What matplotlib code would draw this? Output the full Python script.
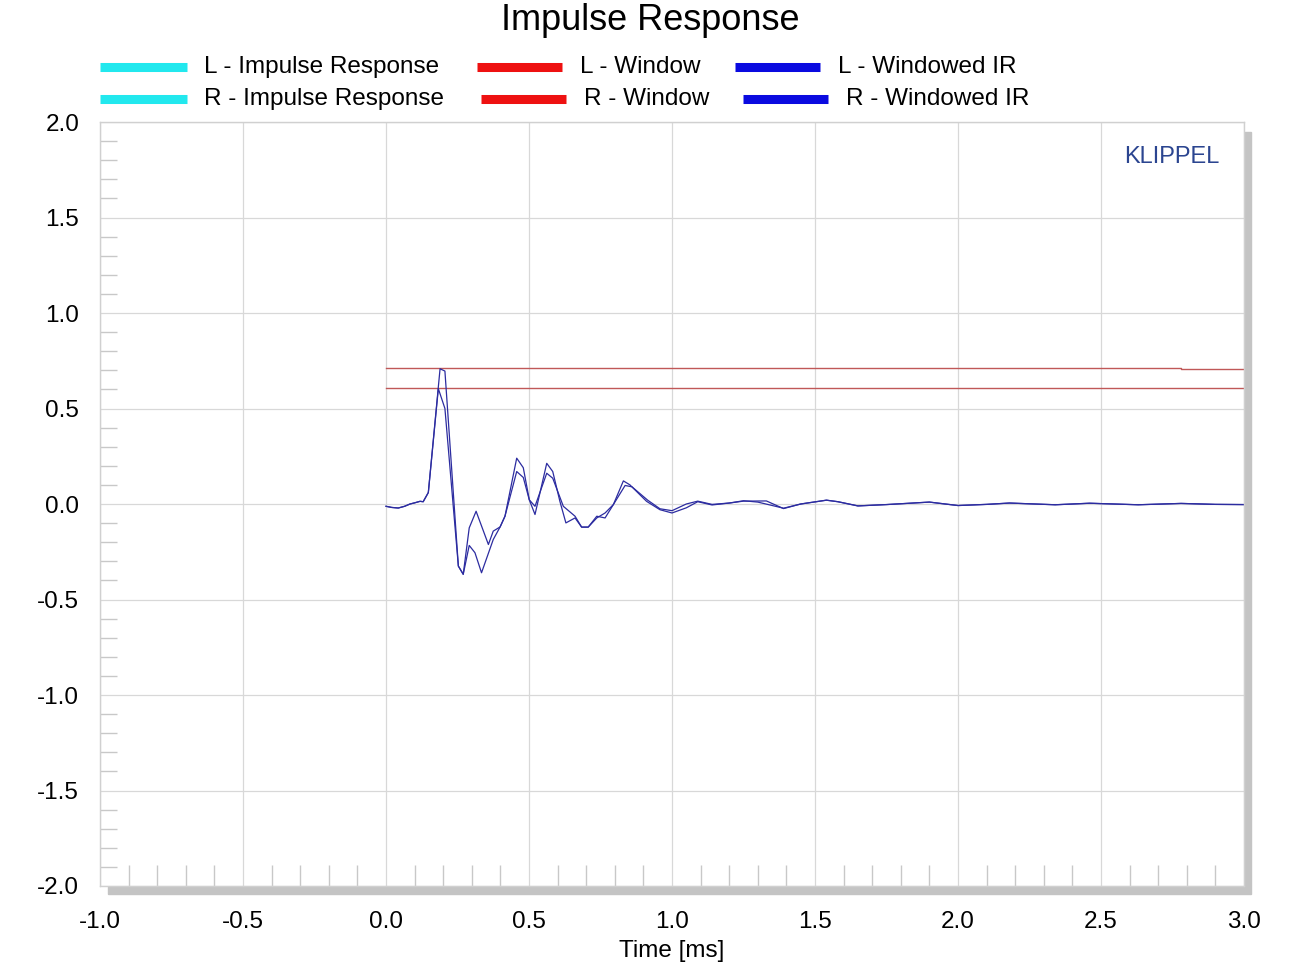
import matplotlib
matplotlib.use('Agg')
import matplotlib.pyplot as plt
from matplotlib.lines import Line2D
from matplotlib.patches import Rectangle
from matplotlib.ticker import MultipleLocator, FormatStrFormatter

plt.rcParams['font.family'] = ['Liberation Sans', 'DejaVu Sans']

# windowed impulse responses, time in ms
t_L = [0.0, 0.02, 0.043, 0.065, 0.084, 0.10, 0.119, 0.13, 0.148, 0.189, 0.206,
       0.253, 0.270, 0.291, 0.315, 0.358, 0.375, 0.399, 0.416, 0.457, 0.480,
       0.501, 0.521, 0.562, 0.583, 0.608, 0.629, 0.661, 0.684, 0.707, 0.737,
       0.766, 0.795, 0.830, 0.853, 0.911, 0.958, 1.0, 1.05, 1.09, 1.14, 1.20,
       1.25, 1.33, 1.39, 1.45, 1.54, 1.58, 1.65, 1.75, 1.90, 2.0, 2.10, 2.18,
       2.34, 2.46, 2.63, 2.78, 2.90, 3.0]
ir_L = [-0.012, -0.018, -0.021, -0.012, 0.0, 0.006, 0.014, 0.012, 0.06, 0.708, 0.696,
        -0.325, -0.368, -0.125, -0.038, -0.212, -0.142, -0.12, -0.064, 0.24, 0.19,
        0.022, -0.055, 0.213, 0.17, 0.014, -0.099, -0.073, -0.121, -0.121, -0.064,
        -0.073, -0.003, 0.121, 0.10, 0.014, -0.03, -0.047, -0.02, 0.012, -0.005, 0.005,
        0.015, 0.016, -0.024, 0.0, 0.02, 0.012, -0.01, -0.003, 0.01, -0.008, -0.002, 0.005,
        -0.004, 0.004, -0.004, 0.003, -0.002, -0.003]

t_R = [0.0, 0.02, 0.043, 0.065, 0.084, 0.10, 0.119, 0.13, 0.148, 0.183, 0.206,
       0.253, 0.270, 0.291, 0.311, 0.334, 0.375, 0.399, 0.416, 0.457, 0.480,
       0.501, 0.521, 0.562, 0.583, 0.620, 0.661, 0.684, 0.707, 0.737, 0.766,
       0.795, 0.836, 0.860, 0.915, 0.958, 1.0, 1.05, 1.09, 1.14, 1.20, 1.25,
       1.30, 1.39, 1.45, 1.54, 1.58, 1.65, 1.75, 1.90, 2.0, 2.10, 2.18, 2.34,
       2.46, 2.63, 2.78, 2.90, 3.0]
ir_R = [-0.012, -0.018, -0.021, -0.012, 0.0, 0.006, 0.014, 0.012, 0.06, 0.604, 0.50,
        -0.325, -0.368, -0.217, -0.255, -0.36, -0.186, -0.12, -0.064, 0.17, 0.139,
        0.022, -0.012, 0.161, 0.135, -0.012, -0.064, -0.121, -0.121, -0.073, -0.047,
        -0.003, 0.097, 0.09, 0.02, -0.025, -0.035, 0.0, 0.015, -0.002, 0.005, 0.017,
        0.01, -0.022, 0.0, 0.02, 0.012, -0.01, -0.003, 0.01, -0.008, -0.002, 0.005, -0.004,
        0.004, -0.004, 0.003, -0.002, -0.003]

# window functions
win_t = [0.0, 2.78, 2.78, 3.0]
win_L = [0.712, 0.712, 0.708, 0.708]
win_R = [0.605, 0.605, 0.605, 0.605]

legend_labels = ['L - Impulse Response', 'R - Impulse Response',
                 'L - Window', 'R - Window',
                 'L - Windowed IR', 'R - Windowed IR']
legend_colors = ['#22e8ee', '#22e8ee', '#ee1111', '#ee1111', '#0a0ae0', '#0a0ae0']

W, H = 1300, 975
fig = plt.figure(figsize=(13, 9.75), dpi=100)

L, R, T, B = 100, 1244, 122, 886
ax = fig.add_axes([L / W, 1 - B / H, (R - L) / W, (B - T) / H])
ax.set_facecolor('white')

# drop shadow
fig.add_artist(Rectangle((108 / W, 1 - 894 / H), (1251 - 108) / W, (894 - 132) / H,
                         transform=fig.transFigure, color='#c4c4c4', zorder=-1))

ax.plot(win_t, win_L, color='#c05858', lw=1.0)
ax.plot(win_t, win_R, color='#c05858', lw=1.0)
ax.plot(t_L, ir_L, color='#2c2ca0', lw=0.9)
ax.plot(t_R, ir_R, color='#2c2ca0', lw=0.9)

ax.set_xlim(-1.0, 3.0)
ax.set_ylim(-2.0, 2.0)
ax.xaxis.set_major_locator(MultipleLocator(0.5))
ax.yaxis.set_major_locator(MultipleLocator(0.5))
ax.xaxis.set_minor_locator(MultipleLocator(0.1))
ax.yaxis.set_minor_locator(MultipleLocator(0.1))
ax.tick_params(which='major', length=0, labelsize=17.5)
ax.tick_params(axis='x', which='major', pad=18)
ax.tick_params(axis='y', which='major', pad=15)
ax.tick_params(which='minor', direction='in', color='#c8c8c8', width=1)
ax.tick_params(axis='x', which='minor', length=15)
ax.tick_params(axis='y', which='minor', length=12)
ax.xaxis.set_major_formatter(FormatStrFormatter('%.1f'))
ax.yaxis.set_major_formatter(FormatStrFormatter('%.1f'))
ax.grid(True, which='major', color='#d8d8d8', lw=0.9)
ax.set_axisbelow(True)
for s in ax.spines.values():
    s.set_color('#d0d0d0')
    s.set_linewidth(1.0)

ax.set_xlabel('Time [ms]', fontsize=17.5, labelpad=5)

fig.text(650 / W, 1 - 20 / H, 'Impulse Response', fontsize=26, ha='center', va='center')
fig.text(1219 / W, 1 - 157 / H, 'KLIPPEL', fontsize=17, color='#2b4590', ha='right', va='center')

# legend, 3 columns x 2 rows
handle_x = [(100, 187), (100, 187), (477, 562), (481, 566), (735, 820), (743, 828)]
text_x = [204, 204, 580, 584, 838, 846]
rows_y = [67, 99, 67, 99, 67, 99]
for i, lab in enumerate(legend_labels):
    x0, x1 = handle_x[i]
    y = 1 - rows_y[i] / H
    fig.add_artist(Line2D([x0 / W, x1 / W], [y, y], transform=fig.transFigure,
                          color=legend_colors[i], lw=6.5, solid_capstyle='butt'))
    fig.text(text_x[i] / W, y, lab, fontsize=17.5, ha='left', va='center')

fig.savefig('out.png', dpi=100)
